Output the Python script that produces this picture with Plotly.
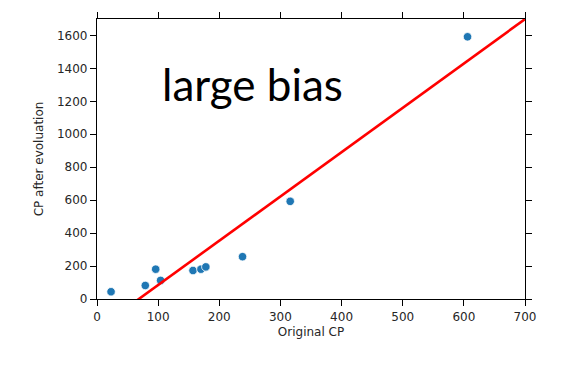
import plotly.graph_objects as go

# Data
original_cp = [23, 79, 96, 104, 157, 170, 178, 238, 316, 606]
cp_after = [44, 82, 181, 113, 173, 181, 195, 257, 593, 1592]

# Fitted model line parameters (y = b + w * x)
line_b = -184.0
line_w = 2.69
line_x = [0, 700]
line_y = [line_b + line_w * x for x in line_x]

x_ticks = [0, 100, 200, 300, 400, 500, 600, 700]
y_ticks = [0, 200, 400, 600, 800, 1000, 1200, 1400, 1600]

fig = go.Figure()
fig.add_trace(go.Scatter(
    x=original_cp, y=cp_after, mode="markers",
    marker=dict(size=8.5, color="#1f77b4", line=dict(color="white", width=0.8)),
    showlegend=False,
))
fig.add_trace(go.Scatter(
    x=line_x, y=line_y, mode="lines",
    line=dict(color="#ff0000", width=2.6),
    showlegend=False,
))

axis_common = dict(
    showline=True, linecolor="black", linewidth=1.2, mirror="ticks",
    ticks="outside", ticklen=6, tickwidth=1, tickcolor="black",
    showgrid=False, zeroline=False,
    tickfont=dict(family="DejaVu Sans", size=12, color="#262626"),
)

fig.update_xaxes(
    range=[0, 700], tickvals=x_ticks,
    title=dict(text="Original CP", font=dict(family="DejaVu Sans", size=12, color="#262626"), standoff=5),
    **axis_common,
)
fig.update_yaxes(
    range=[0, 1700], tickvals=y_ticks,
    title=dict(text="CP after evoluation", font=dict(family="DejaVu Sans", size=12, color="#262626"), standoff=10),
    **axis_common,
)

fig.add_annotation(
    text="large bias", xref="paper", yref="paper",
    x=(252 - 97) / 428, y=(299 - 80) / 285,
    xanchor="center", yanchor="middle", showarrow=False,
    font=dict(family="Lato", size=44, color="black"),
)

fig.update_layout(
    width=576, height=370,
    margin=dict(l=97, r=51, t=14, b=71),
    plot_bgcolor="white", paper_bgcolor="white",
)

fig.write_html("out.html")
